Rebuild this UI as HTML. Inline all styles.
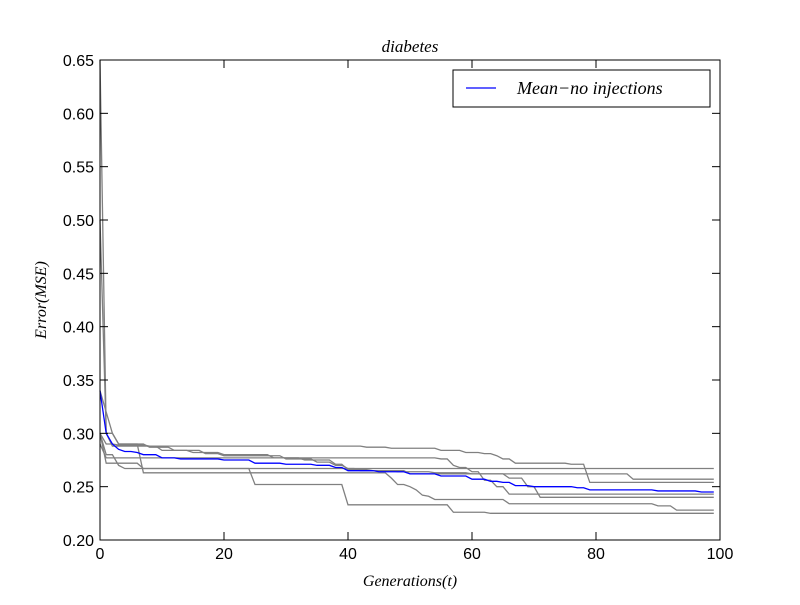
<!DOCTYPE html>
<html><head><meta charset="utf-8"><style>
body{margin:0;background:#fff}
svg text{font-family:"Liberation Sans",sans-serif}
.it{font-family:"Liberation Serif",serif;font-style:italic}
</style></head><body>
<svg id="chart" width="800" height="600">
<rect width="800" height="600" fill="#fff"/>
<g id="marks"></g>
<g id="axes"></g>
<text class="it" x="410" y="52" font-size="17" text-anchor="middle">diabetes</text>
<text class="it" x="410" y="586" font-size="16" text-anchor="middle">Generations(t)</text>
<text class="it" x="46" y="300" font-size="16" text-anchor="middle" transform="rotate(-90 46 300)">Error(MSE)</text>
<g>
<rect x="453" y="70" width="257" height="37" fill="#fff" stroke="#000" stroke-width="1"/>
<line x1="466" y1="88" x2="496" y2="88" stroke="#0000ff" stroke-width="1.3"/>
<text class="it" x="517" y="94" font-size="18">Mean−no injections</text>
</g>
</svg>
<script>
const xTicks=[0,20,40,60,80,100];
const yTicks=[0.20,0.25,0.30,0.35,0.40,0.45,0.50,0.55,0.60,0.65];
const s1Gen=[0,1,3,8,43,47,55,59,62,64,65,67,76,79];
const s1Val=[0.30,0.29,0.289,0.288,0.287,0.286,0.284,0.282,0.281,0.279,0.276,0.272,0.271,0.254];
const s2Gen=[0,1,7];
const s2Val=[0.30,0.272,0.267];
const s3Gen=[0,1,55,57,58,60,62,64,66];
const s3Val=[0.29,0.277,0.276,0.270,0.268,0.264,0.256,0.250,0.243];
const s4Gen=[0,1,3,4,25,40,57,63];
const s4Val=[0.30,0.28,0.27,0.267,0.252,0.233,0.226,0.225];
const s5Gen=[0,1,2,3,7,47,48,50,51,52,53,54,66,90,93];
const s5Val=[0.34,0.32,0.30,0.29,0.263,0.258,0.252,0.250,0.247,0.242,0.241,0.238,0.234,0.232,0.228];
const s6Gen=[0,1,3,8,12,17,20,30,35,38,40,42,50,66,69,71];
const s6Val=[0.50,0.30,0.29,0.287,0.284,0.281,0.279,0.276,0.273,0.270,0.267,0.265,0.262,0.258,0.250,0.240];
const s7Gen=[0,1,2,10,15,20,28,33,38,40,44,48,54,60,86];
const s7Val=[0.65,0.30,0.288,0.284,0.282,0.280,0.277,0.275,0.271,0.266,0.265,0.264,0.263,0.262,0.257];
const meanGen=[0,1,2,3,4,6,7,10,13,20,25,30,35,38,40,45,50,55,60,63,65,67,70,77,79,85,90,97];
const meanVal=[0.34,0.30,0.29,0.285,0.283,0.282,0.280,0.277,0.276,0.275,0.272,0.271,0.270,0.268,0.265,0.264,0.262,0.260,0.257,0.255,0.254,0.251,0.250,0.249,0.247,0.247,0.246,0.245];
const X=g=>100+g*6.2;
const Y=v=>540-(v-0.2)*(480/0.45);
const NS='http://www.w3.org/2000/svg';
function expand(gens,vals){const out=[];let k=0;for(let g=0;g<=99;g++){while(k+1<gens.length&&gens[k+1]<=g)k++;out.push(vals[k]);}return out;}
const marks=document.getElementById('marks');
function line(gens,vals,color,name,w){
  const v=expand(gens,vals);
  const p=document.createElementNS(NS,'polyline');
  p.setAttribute('points',v.map((y,i)=>X(i)+','+Y(y)).join(' '));
  p.setAttribute('fill','none');p.setAttribute('stroke',color);p.setAttribute('stroke-width',w);
  
  
  marks.appendChild(p);
}
const grays=[[s1Gen,s1Val],[s2Gen,s2Val],[s3Gen,s3Val],[s4Gen,s4Val],[s5Gen,s5Val],[s6Gen,s6Val],[s7Gen,s7Val]];
grays.forEach((s,i)=>line(s[0],s[1],'#808080','run-line-'+(i+1),1.3));
line(meanGen,meanVal,'#0000ff','mean-line',1.3);
const ax=document.getElementById('axes');
let h='<rect x="100" y="60" width="620" height="480" fill="none" stroke="#000" stroke-width="1"/>';
xTicks.forEach(t=>{const x=X(t);h+=`<line x1="${x}" y1="540" x2="${x}" y2="532" stroke="#000"/><line x1="${x}" y1="60" x2="${x}" y2="68" stroke="#000"/><text x="${x}" y="559" font-size="16" text-anchor="middle">${t}</text>`;});
yTicks.forEach(t=>{const y=Y(t);h+=`<line x1="100" y1="${y}" x2="108" y2="${y}" stroke="#000"/><line x1="720" y1="${y}" x2="712" y2="${y}" stroke="#000"/><text x="94" y="${y+6}" font-size="16" text-anchor="end">${t.toFixed(2)}</text>`;});
ax.innerHTML=h;
</script>
</body></html>
